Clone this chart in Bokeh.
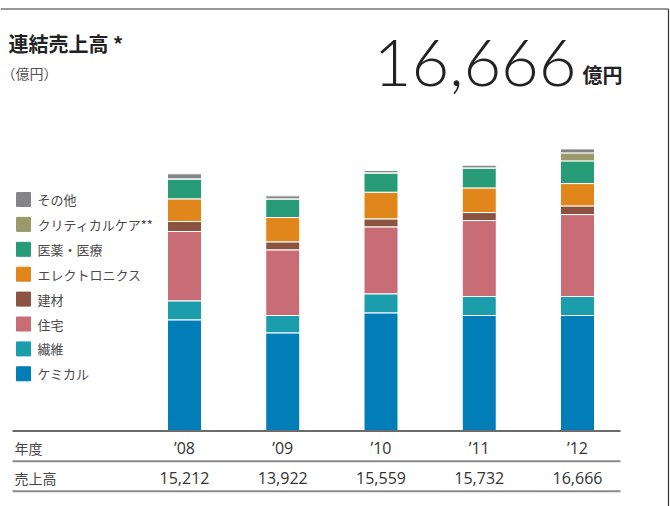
from bokeh.plotting import figure
from bokeh.models import Range1d, ColumnDataSource
from bokeh.core.properties import value
from bokeh.embed import file_html
from bokeh.resources import INLINE

# ---- data ----
years = ["’08", "’09", "’10", "’11", "’12"]
total_labels = ["15,212", "13,922", "15,559", "15,732", "16,666"]
segments = ["ケミカル", "繊維", "住宅", "建材", "エレクトロニクス", "医薬・医療", "クリティカルケア**", "その他"]
chemical = [6557, 5786, 6971, 6812, 6812]
fibers = [1126, 1027, 1126, 1126, 1126]
homes = [4107, 3890, 3969, 4502, 4857]
construction = [592, 474, 474, 474, 513]
electronics = [1343, 1441, 1580, 1461, 1323]
health = [1185, 1106, 1145, 1185, 1343]
critical = [0, 0, 0, 0, 474]
others = [296, 178, 138, 158, 237]
colors = ["#017db7", "#1b9dac", "#c86c76", "#8b5441", "#e0861a", "#279b75", "#9a9a6a", "#858588"]
headline = "16,666"

keys = ["s%d" % i for i in range(len(segments))]
series = [chemical, fibers, homes, construction, electronics, health, critical, others]
data = {"x": list(range(len(years)))}
for k, s in zip(keys, series):
    data[k] = s
source = ColumnDataSource(data)

W, H = 670, 506
base_px = 430.0          # baseline, px from top
unit = 59.25             # value units per pixel
x0_px, step_px = 184.0, 98.25

p = figure(width=W, height=H, output_backend="svg", toolbar_location=None,
           min_border=0, min_border_left=0, min_border_right=0,
           min_border_top=0, min_border_bottom=0,
           x_range=Range1d(-x0_px / step_px, (W - x0_px) / step_px),
           y_range=Range1d(-(H - base_px) * unit, base_px * unit))
p.xaxis.visible = False
p.yaxis.visible = False
p.grid.visible = False
p.outline_line_color = None
p.background_fill_color = "white"
p.border_fill_color = "white"
p.extra_x_ranges = {"px": Range1d(0, W)}
p.extra_y_ranges = {"px": Range1d(H, 0)}

p.vbar_stack(keys, x="x", width=34 / step_px, source=source, color=colors,
             line_color="white", line_width=1)

FONT = value("Noto Sans CJK JP")

# frame lines (top and right)
p.segment(x0=[0, 668], y0=[8.5, 8.5], x1=[668, 668], y1=[8.5, H],
          x_range_name="px", y_range_name="px", line_color="#333333", line_width=1.2)

# title
p.text(x=[8], y=[43], text=["連結売上高 *"], x_range_name="px", y_range_name="px",
       text_font=FONT, text_font_style="bold", text_font_size="20px",
       text_color="#222222", text_baseline="middle")
p.text(x=[1], y=[72], text=["（億円）"], x_range_name="px", y_range_name="px",
       text_font=FONT, text_font_size="14px", text_color="#555555", text_baseline="middle")
p.text(x=[576], y=[62], text=[headline], x_range_name="px", y_range_name="px",
       text_font=value("Lato Light, Lato, sans-serif"), text_font_size="65px",
       text_color="#222222", text_baseline="middle", text_align="right")
p.text(x=[582], y=[74], text=["億円"], x_range_name="px", y_range_name="px",
       text_font=FONT, text_font_style="bold", text_font_size="20px",
       text_color="#222222", text_baseline="middle")

# legend (top: その他 ... bottom: ケミカル)
leg_names = segments[::-1]
leg_colors = colors[::-1]
leg_y = [199 + 24.9 * i for i in range(len(leg_names))]
p.rect(x=[23] * len(leg_names), y=leg_y, width=14, height=14, color=leg_colors,
       x_range_name="px", y_range_name="px")
p.text(x=[37] * len(leg_names), y=leg_y, text=leg_names, x_range_name="px", y_range_name="px",
       text_font=FONT, text_font_size="13px", text_color="#4a4a4a", text_baseline="middle")

# table lines
p.segment(x0=[12], y0=[430.5], x1=[620], y1=[430.5], x_range_name="px", y_range_name="px",
          line_color="#3a3a3a", line_width=1.5)
p.segment(x0=[12, 12], y0=[460.7, 490.7], x1=[620, 620], y1=[460.7, 490.7],
          x_range_name="px", y_range_name="px", line_color="#8a8a8a", line_width=2)

# table text
p.text(x=[14], y=[447], text=["年度"], x_range_name="px", y_range_name="px",
       text_font=FONT, text_font_size="14px", text_color="#444444", text_baseline="middle")
p.text(x=[14], y=[477], text=["売上高"], x_range_name="px", y_range_name="px",
       text_font=FONT, text_font_size="14px", text_color="#444444", text_baseline="middle")
p.text(x=data["x"], y=[447] * len(years), text=years, y_range_name="px",
       text_font=value("Open Sans"), text_font_size="16px", text_color="#333333",
       text_baseline="middle", text_align="center")
p.text(x=data["x"], y=[477] * len(years), text=total_labels, y_range_name="px",
       text_font=value("Open Sans"), text_font_size="16px", text_color="#333333",
       text_baseline="middle", text_align="center")

open("out.html", "w").write(file_html(p, INLINE))
